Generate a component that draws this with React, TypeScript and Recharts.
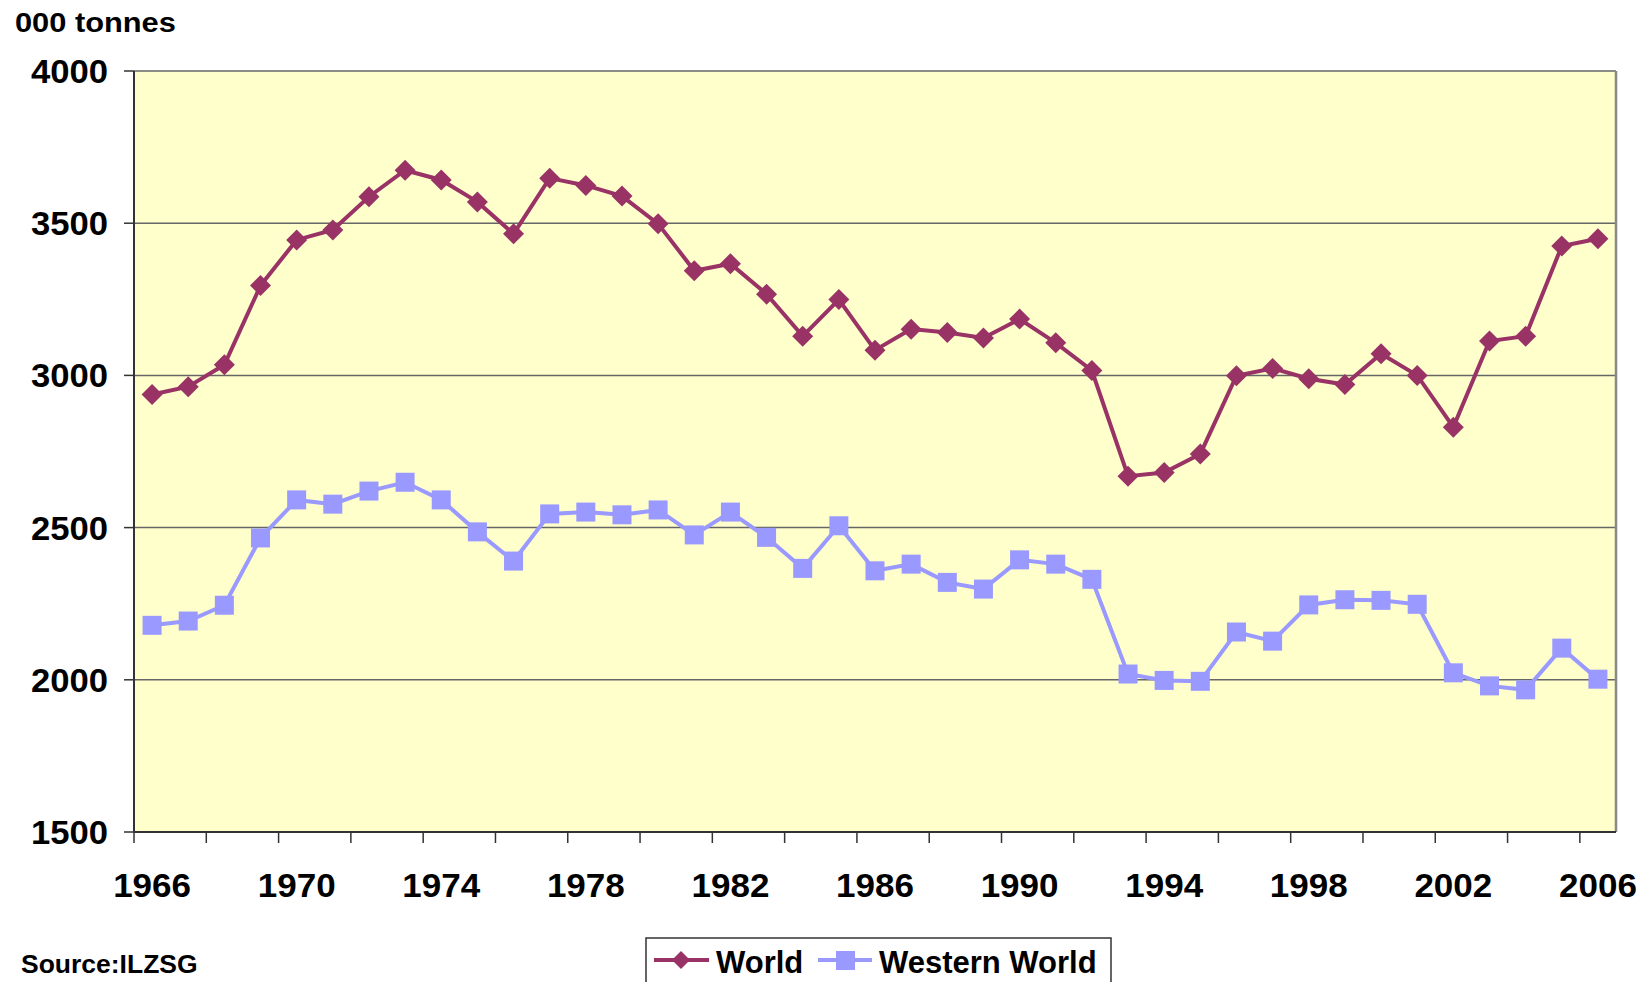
import React from "react";
import { LineChart, Line, XAxis, YAxis, CartesianGrid, ReferenceLine } from "recharts";

const years = [
  1966, 1967, 1968, 1969, 1970, 1971, 1972, 1973, 1974, 1975,
  1976, 1977, 1978, 1979, 1980, 1981, 1982, 1983, 1984, 1985,
  1986, 1987, 1988, 1989, 1990, 1991, 1992, 1993, 1994, 1995,
  1996, 1997, 1998, 1999, 2000, 2001, 2002, 2003, 2004, 2005,
  2006,
];

const world = [
  2937, 2963, 3035, 3295, 3445, 3478, 3587, 3674, 3642, 3570,
  3465, 3648, 3624, 3589, 3498, 3344, 3367, 3267, 3129, 3249,
  3083, 3152, 3141, 3123, 3185, 3107, 3016, 2669, 2681, 2742,
  2999, 3023, 2989, 2970, 3071, 3000, 2830, 3113, 3129, 3425,
  3449,
];

const western = [
  2179, 2193, 2245, 2466, 2591, 2577, 2620, 2649, 2591, 2486,
  2390, 2545, 2551, 2542, 2558, 2476, 2551, 2468, 2366, 2506,
  2358, 2380, 2320, 2298, 2394, 2380, 2330, 2019, 1998, 1995,
  2157, 2127, 2246, 2263, 2261, 2248, 2023, 1980, 1967, 2104,
  2002,
];

const yTicks = [1500, 2000, 2500, 3000, 3500, 4000];
const xLabelYears = [1966, 1970, 1974, 1978, 1982, 1986, 1990, 1994, 1998, 2002, 2006];
const xTickMarks = [
  1965.5, 1967.5, 1969.5, 1971.5, 1973.5, 1975.5, 1977.5, 1979.5, 1981.5, 1983.5,
  1985.5, 1987.5, 1989.5, 1991.5, 1993.5, 1995.5, 1997.5, 1999.5, 2001.5, 2003.5,
  2005.5,
];

const data = years.map((y, i) => ({ year: y, world: world[i], western: western[i] }));
const allXTicks = [...xTickMarks, ...xLabelYears].sort((a, b) => a - b);

const FONT = "'Liberation Sans', Arial, Helvetica, sans-serif";
const WORLD_COLOR = "#993366";
const WEST_COLOR = "#9999FF";

const DiamondDot = (props: any) => {
  const { cx, cy, index } = props;
  if (cx == null || cy == null) return null;
  const r = 10.5;
  return (
    <path
      key={`d-${index}`}
      d={`M${cx},${cy - r}L${cx + r},${cy}L${cx},${cy + r}L${cx - r},${cy}Z`}
      fill={WORLD_COLOR}
    />
  );
};

const SquareDot = (props: any) => {
  const { cx, cy, index } = props;
  if (cx == null || cy == null) return null;
  const s = 19;
  return <rect key={`s-${index}`} x={cx - s / 2} y={cy - s / 2} width={s} height={s} fill={WEST_COLOR} />;
};

const XTick = (props: any) => {
  const { x, y, payload } = props;
  const v = payload.value;
  if (v % 1 !== 0) {
    return <line x1={x} x2={x} y1={y} y2={y + 11} stroke="#333" strokeWidth={1.5} />;
  }
  return (
    <text
      transform={`translate(${x},${y + 65}) scale(1.03,1)`}
      textAnchor="middle"
      fontFamily={FONT}
      fontWeight="bold"
      fontSize={34}
      fill="#000"
    >
      {v}
    </text>
  );
};

const YTick = (props: any) => {
  const { x, y, payload } = props;
  return (
    <text
      transform={`translate(${x},${y + 12}) scale(1.05,1)`}
      textAnchor="end"
      fontFamily={FONT}
      fontWeight="bold"
      fontSize={33}
      fill="#000"
    >
      {payload.value}
    </text>
  );
};

export default function App() {
  return (
    <div
      style={{
        position: "absolute",
        left: 0,
        top: 0,
        width: 1645,
        height: 982,
        overflow: "hidden",
        background: "#fff",
      }}
    >
      <div style={{ position: "absolute", left: 0, top: 0 }}>
        <LineChart
          width={1645}
          height={982}
          data={data}
          margin={{ top: 71, right: 29, left: 0, bottom: 90 }}
        >
          <CartesianGrid vertical={false} stroke="#666" strokeWidth={1.5} fill="#FFFFCC" fillOpacity={1} />
          <XAxis
            dataKey="year"
            type="number"
            domain={[1965.5, 2006.5]}
            ticks={allXTicks}
            interval={0}
            tick={<XTick />}
            tickLine={false}
            tickSize={0}
            tickMargin={0}
            axisLine={{ stroke: "#333", strokeWidth: 2 }}
            height={60}
            allowDataOverflow
          />
          <YAxis
            type="number"
            domain={[1500, 4000]}
            ticks={yTicks}
            interval={0}
            width={134}
            tickSize={10}
            tickMargin={16}
            tick={<YTick />}
            tickLine={{ stroke: "#333", strokeWidth: 1.5 }}
            axisLine={{ stroke: "#333", strokeWidth: 2 }}
            allowDataOverflow
          />
          <ReferenceLine x={2006.5} stroke="#888" strokeWidth={2.5} />
          <Line
            type="linear"
            dataKey="western"
            stroke={WEST_COLOR}
            strokeWidth={4}
            dot={<SquareDot />}
            activeDot={false}
            isAnimationActive={false}
          />
          <Line
            type="linear"
            dataKey="world"
            stroke={WORLD_COLOR}
            strokeWidth={4}
            dot={<DiamondDot />}
            activeDot={false}
            isAnimationActive={false}
          />
        </LineChart>
      </div>
      <svg
        width={1645}
        height={982}
        style={{ position: "absolute", left: 0, top: 0, pointerEvents: "none" }}
      >
        <text
          transform="translate(15,32) scale(1.1,1)"
          fontFamily={FONT}
          fontWeight="bold"
          fontSize={28}
          fill="#000"
        >
          000 tonnes
        </text>
        <text
          transform="translate(21,973) scale(1.06,1)"
          fontFamily={FONT}
          fontWeight="bold"
          fontSize={25}
          fill="#000"
        >
          Source:ILZSG
        </text>
        <g>
          <rect x={646} y={938} width={465} height={60} fill="#fff" stroke="#333" strokeWidth={1.5} />
          <line x1={654} x2={709} y1={960} y2={960} stroke={WORLD_COLOR} strokeWidth={4} />
          <path d="M681,951L690,960L681,969L672,960Z" fill={WORLD_COLOR} />
          <text x={716} y={973} fontFamily={FONT} fontWeight="bold" fontSize={31} fill="#000">
            World
          </text>
          <line x1={818} x2={872} y1={960} y2={960} stroke={WEST_COLOR} strokeWidth={4} />
          <rect x={836} y={951} width={19} height={19} fill={WEST_COLOR} />
          <text x={879} y={973} fontFamily={FONT} fontWeight="bold" fontSize={31} fill="#000">
            Western World
          </text>
        </g>
      </svg>
    </div>
  );
}
